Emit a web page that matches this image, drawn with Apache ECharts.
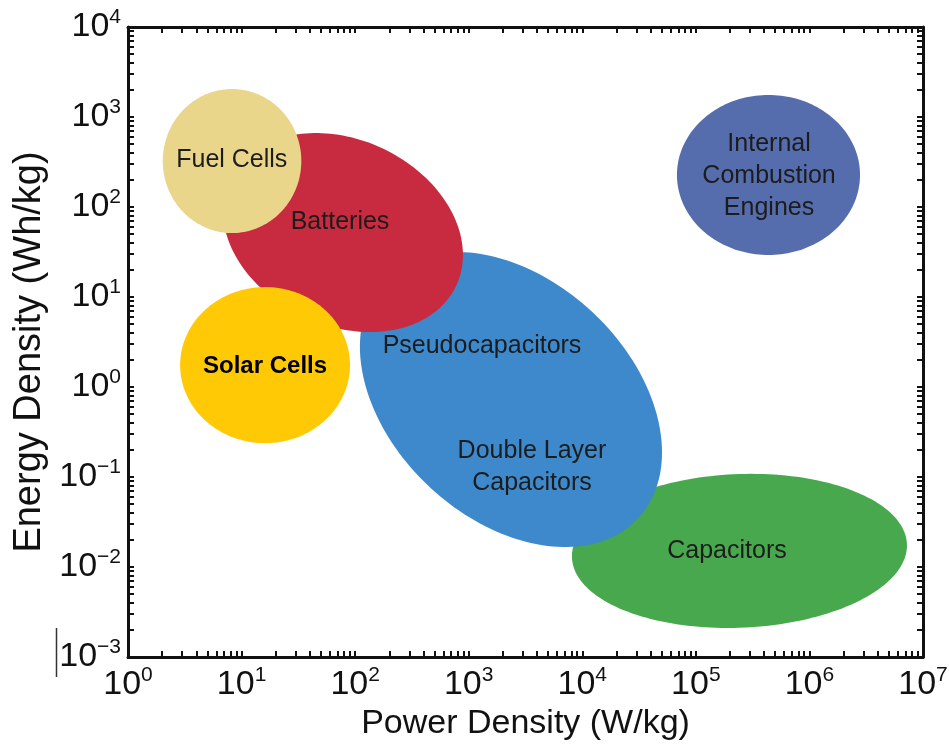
<!DOCTYPE html>
<html>
<head>
<meta charset="utf-8">
<script src="https://cdn.jsdelivr.net/npm/echarts@6/dist/echarts.min.js"></script>
<style>
  html, body { margin: 0; padding: 0; background: #fff; }
  #chart { width: 949px; height: 751px; }
</style>
</head>
<body>
<div id="chart"></div>
<script>
// regions of the Ragone plot (drawing order: back to front)
const regionNames = ['Capacitors', 'Electrochemical Capacitors', 'Batteries', 'Fuel Cells', 'Solar Cells', 'Internal Combustion Engines'];
const powerCenter = [242000, 2355, 78, 8.24, 16.1, 436000];   // W/kg
const energyCenter = [0.0151, 0.726, 52, 324, 1.75, 227];     // Wh/kg
const powerHalfDecades = [1.475, 1.33, 1.057, 0.61, 0.748, 0.806];
const energyHalfDecades = [0.856, 1.639, 1.106, 0.80, 0.867, 0.889];
const tiltDeg = [4, -21, -13, 0, 0, 0];
const regionColors = ['#48a84d', '#3d89cc', '#c82b3f', '#e9d68a', '#ffc905', '#566dad'];

// text labels
const labelTexts = ['Fuel Cells', 'Batteries', 'Solar Cells', 'Pseudocapacitors', 'Double Layer\nCapacitors', 'Capacitors', 'Internal\nCombustion\nEngines'];
const labelPower = [8.2, 73.6, 16.1, 1309, 3606, 188000, 441000];
const labelEnergy = [333, 68, 1.71, 2.85, 0.129, 0.0151, 221];
const labelBold = [false, false, true, false, false, false, false];

// axis ticks
const xDecades = [1, 10, 100, 1e3, 1e4, 1e5, 1e6, 1e7];
const yDecades = [1e-3, 1e-2, 1e-1, 1, 10, 100, 1e3, 1e4];

function minorTicks(decades) {
  const out = [];
  decades.forEach((d, i) => {
    out.push(d);
    if (i < decades.length - 1) {
      for (let k = 2; k <= 9; k++) out.push(d * k);
    }
  });
  return out;
}

const FONT = '"Liberation Sans", Arial, Helvetica, sans-serif';

function powLabel(v) {
  const e = Math.round(Math.log10(v));
  return '{b|10}{s|' + (e < 0 ? '\u2212' + (-e) : e) + '}';
}

const labelRich = {
  b: { fontSize: 34, fontFamily: FONT, color: '#111', lineHeight: 40 },
  s: { fontSize: 21, fontFamily: FONT, color: '#111', lineHeight: 21, verticalAlign: 'top' }
};

function makeAxis(pos, decades, showLabel, extra) {
  return Object.assign({
    type: 'log',
    logBase: 10,
    position: pos,
    min: decades[0],
    max: decades[decades.length - 1],
    axisLine: { show: true, onZero: false, lineStyle: { color: '#111', width: 3 } },
    axisTick: { show: true, inside: true, length: 6, lineStyle: { color: '#111', width: 2 }, customValues: minorTicks(decades) },
    axisLabel: showLabel ? { show: true, customValues: decades, formatter: powLabel, rich: labelRich } : { show: false },
    splitLine: { show: false },
    minorTick: { show: false }
  }, extra || {});
}

const chart = echarts.init(document.getElementById('chart'));

const option = {
  backgroundColor: '#fff',
  animation: false,
  grid: { left: 128, right: 26, top: 27, bottom: 94, outerBoundsMode: 'none' },
  xAxis: [
    makeAxis('bottom', xDecades, true, {
      name: 'Power Density (W/kg)',
      nameLocation: 'middle',
      nameGap: 50,
      nameTextStyle: { fontSize: 34, fontFamily: FONT, color: '#111' },
      axisLabel: { show: true, customValues: xDecades, formatter: powLabel, rich: labelRich, margin: 8 }
    }),
    makeAxis('top', xDecades, false)
  ],
  yAxis: [
    makeAxis('left', yDecades, true, {
      name: 'Energy Density (Wh/kg)',
      nameLocation: 'middle',
      nameGap: 78,
      nameTextStyle: { fontSize: 38, fontFamily: FONT, color: '#111', padding: [0, 20, 0, 0] },
      axisLabel: { show: true, customValues: yDecades, formatter: powLabel, rich: labelRich, margin: 7 }
    }),
    makeAxis('right', yDecades, false)
  ],
  graphic: [
    { type: 'line', shape: { x1: 56.5, y1: 628, x2: 56.5, y2: 677 }, style: { stroke: '#333', lineWidth: 1.5 } }
  ],
  series: [
    {
      type: 'custom',
      name: 'regions',
      coordinateSystem: 'cartesian2d',
      data: regionNames.map((n, i) => [powerCenter[i], energyCenter[i], powerHalfDecades[i], energyHalfDecades[i], tiltDeg[i], i]),
      renderItem: function (params, api) {
        const lx = Math.log10(api.value(0));
        const ly = Math.log10(api.value(1));
        const hx = api.value(2);
        const hy = api.value(3);
        const psi = api.value(4) * Math.PI / 180;
        const idx = api.value(5);
        const pts = [];
        for (let a = 0; a < 360; a += 2) {
          const t = a * Math.PI / 180;
          const px = Math.pow(10, lx + hx * Math.cos(t));
          const py = Math.pow(10, ly + hy * Math.sin(t + psi));
          pts.push(api.coord([px, py]));
        }
        return {
          type: 'polygon',
          shape: { points: pts },
          style: { fill: regionColors[idx] }
        };
      },
      z: 2
    },
    {
      type: 'custom',
      name: 'labels',
      coordinateSystem: 'cartesian2d',
      data: labelTexts.map((t, i) => [labelPower[i], labelEnergy[i], i]),
      renderItem: function (params, api) {
        const p = api.coord([api.value(0), api.value(1)]);
        const i = api.value(2);
        return {
          type: 'text',
          x: p[0],
          y: p[1],
          style: {
            text: labelTexts[i],
            fontSize: labelBold[i] ? 24 : 25,
            fontWeight: labelBold[i] ? 'bold' : 'normal',
            fontFamily: FONT,
            fill: labelBold[i] ? '#000' : '#1c1c1c',
            align: 'center',
            verticalAlign: 'middle',
            lineHeight: 32
          }
        };
      },
      z: 3
    }
  ]
};

chart.setOption(option);
</script>
</body>
</html>
